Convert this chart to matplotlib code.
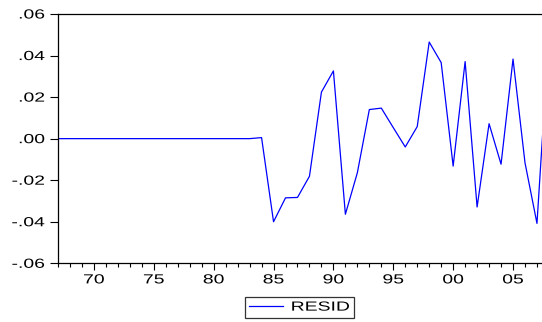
import numpy as np
import matplotlib.pyplot as plt
from matplotlib.ticker import MultipleLocator, FixedLocator
from matplotlib.patheffects import AbstractPathEffect
from matplotlib.transforms import Affine2D

plt.rcParams["font.family"] = ["Liberation Sans", "DejaVu Sans"]

years = np.arange(1967, 2009)
resid = [0.0] * 17 + [
    0.0005,   # 1984
    -0.0400, -0.0285, -0.0283, -0.0181, 0.0224, 0.0326,   # 1985-1990
    -0.0364, -0.0164, 0.0140, 0.0147, 0.0053, -0.0040,    # 1991-1996
    0.0058, 0.0465, 0.0366, -0.0132, 0.0371, -0.0329,     # 1997-2002
    0.0072, -0.0123, 0.0383, -0.0116, -0.0408, 0.0500,    # 2003-2008
]
ytick_vals = [0.06, 0.04, 0.02, 0.00, -0.02, -0.04, -0.06]
ytick_labels = [".06", ".04", ".02", ".00", "-.02", "-.04", "-.06"]
xtick_vals = [1970, 1975, 1980, 1985, 1990, 1995, 2000, 2005]
xtick_labels = ["70", "75", "80", "85", "90", "95", "00", "05"]


class HStretch(AbstractPathEffect):
    """Widen glyphs horizontally around a chosen edge of the text."""

    def __init__(self, sx, anchor="center"):
        super().__init__()
        self.sx = sx
        self.anchor = anchor

    def draw_path(self, renderer, gc, tpath, affine, rgbFace=None):
        ext = tpath.get_extents(affine)
        if self.anchor == "right":
            cx = ext.x1
        elif self.anchor == "left":
            cx = ext.x0
        else:
            cx = (ext.x0 + ext.x1) / 2
        st = Affine2D().translate(-cx, 0).scale(self.sx, 1).translate(cx, 0)
        renderer.draw_path(gc, tpath, affine + st, rgbFace)


SX = 1.47
FS = 9.5

fig = plt.figure(figsize=(5.42, 3.22), dpi=100)
ax = fig.add_axes([58 / 542, 1 - 263.3 / 322, 1 - 58 / 542, (263.3 - 14) / 322])

ax.plot(years, resid, color="#0000ff", linewidth=0.9, label="RESID")

ax.set_xlim(1967, 2007.42)
ax.set_ylim(-0.06, 0.06)

ax.yaxis.set_major_locator(FixedLocator(ytick_vals))
ax.set_yticklabels(ytick_labels)
ax.xaxis.set_major_locator(FixedLocator(xtick_vals))
ax.xaxis.set_minor_locator(MultipleLocator(1))
ax.set_xticklabels(xtick_labels)

ax.tick_params(axis="both", labelsize=FS, colors="black", width=0.8)
ax.tick_params(axis="y", length=6, pad=3.5)
ax.tick_params(axis="x", which="major", length=5, pad=3)
ax.tick_params(axis="x", which="minor", length=3, width=0.8)

for lab in ax.get_yticklabels():
    lab.set_path_effects([HStretch(SX, "right")])
for lab in ax.get_xticklabels():
    lab.set_path_effects([HStretch(SX, "center")])

ax.spines["right"].set_visible(False)
for side in ["left", "bottom", "top"]:
    ax.spines[side].set_linewidth(0.9)
    ax.spines[side].set_color("black")

leg = fig.legend(
    loc="center",
    bbox_to_anchor=(299.5 / 542, 1 - 307.5 / 322),
    fontsize=FS,
    frameon=True,
    fancybox=False,
    handlelength=2.6,
    handletextpad=0.6,
    borderpad=0.32,
    borderaxespad=0,
)
leg.get_frame().set_edgecolor("black")
leg.get_frame().set_linewidth(0.9)
leg.texts[0].set_text("RESID     ")
leg.texts[0].set_path_effects([HStretch(SX, "left")])

fig.savefig("out.png", dpi=100)
